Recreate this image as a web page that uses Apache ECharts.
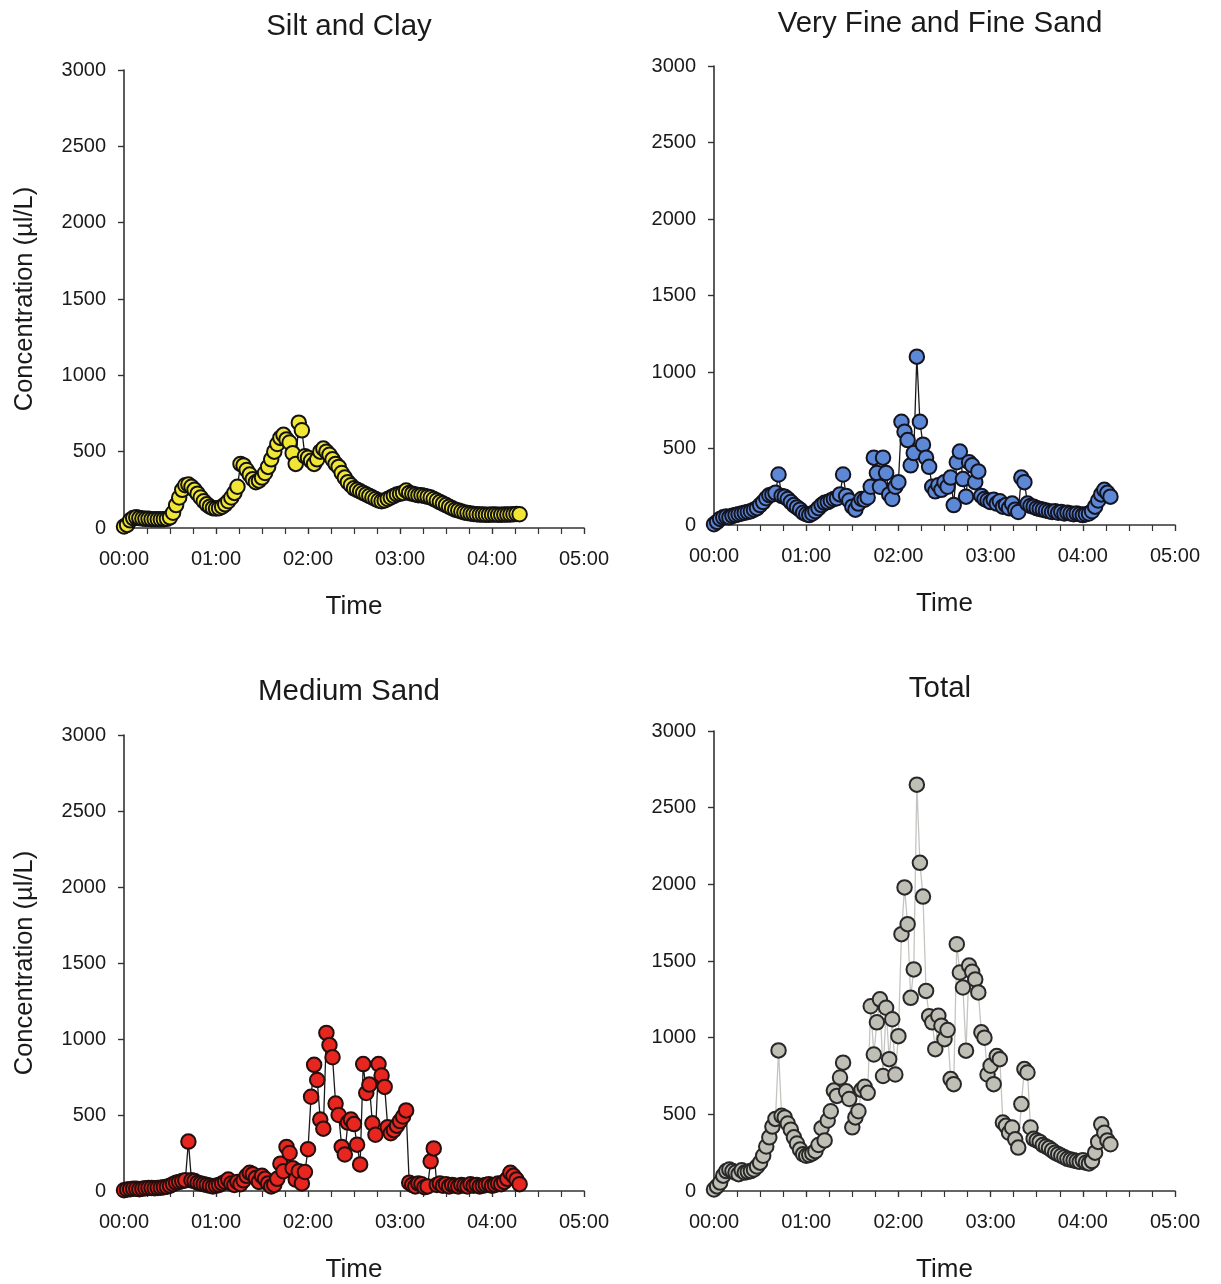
<!DOCTYPE html>
<html>
<head>
<meta charset="utf-8">
<script src="https://cdn.jsdelivr.net/npm/echarts@6/dist/echarts.min.js"></script>
<style>
html,body{margin:0;padding:0;background:#fff;}
#c{width:1221px;height:1284px;}
</style>
</head>
<body>
<div id="c"></div>
<script>
// time in minutes since start (2-min samples)
const times = [0,2,4,6,8,10,12,14,16,18,20,22,24,26,28,30,32,34,36,38,40,42,44,46,48,50,52,54,56,58,
60,62,64,66,68,70,72,74,76,78,80,82,84,86,88,90,92,94,96,98,100,102,104,106,108,110,112,114,116,118,
120,122,124,126,128,130,132,134,136,138,140,142,144,146,148,150,152,154,156,158,160,162,164,166,168,170,172,174,176,178,
180,182,184,186,188,190,192,194,196,198,200,202,204,206,208,210,212,214,216,218,220,222,224,226,228,230,232,234,236,238,
240,242,244,246,248,250,252,254,256,258];

const siltClay = [10,20,50,65,70,65,62,60,60,58,
58,57,57,58,60,70,100,150,200,250,
280,285,270,250,225,200,175,155,140,130,
128,130,140,155,175,200,230,270,420,410,
380,350,320,300,310,330,360,400,450,500,
550,590,610,580,560,490,420,690,640,470,
460,440,420,450,500,520,500,480,450,420,
400,360,330,300,280,260,250,240,230,220,
210,200,190,180,175,180,190,200,210,220,
225,230,245,230,225,220,215,215,210,205,
200,190,180,170,160,150,140,130,120,115,
108,102,98,95,92,90,88,88,87,87,
88,88,87,87,88,88,89,90,92,90];

const fineSand = [5,20,40,50,55,50,60,65,70,75,
80,85,90,100,110,130,150,175,195,200,
210,330,190,185,170,150,130,115,100,80,
70,65,75,90,110,130,145,150,160,170,
175,200,330,190,160,120,100,140,170,165,
180,250,440,340,250,440,340,200,170,250,
280,675,610,555,390,470,1100,675,525,440,
380,250,220,260,230,280,250,310,130,410,
480,300,185,410,390,280,350,190,170,160,
150,165,140,155,120,130,110,140,100,85,
310,280,140,125,120,110,105,100,95,90,
85,90,80,85,75,80,75,70,75,70,
65,70,75,90,120,160,200,230,210,185];

const mediumSand = [5,10,12,15,15,12,15,18,20,20,
18,20,22,25,28,35,45,55,60,65,
70,325,70,65,55,50,45,40,35,30,
35,40,50,60,75,50,40,60,45,70,
100,120,110,85,60,100,80,50,30,40,
80,180,130,290,250,150,75,130,50,125,
275,620,830,730,470,410,1040,960,880,575,
500,290,240,450,470,440,305,175,835,645,
700,445,370,835,760,685,420,380,400,430,
460,490,530,55,40,30,50,45,25,30,
195,280,40,50,35,45,30,40,35,30,
40,35,30,45,35,40,30,35,40,45,
35,40,50,45,60,80,120,100,75,45];

const total = [10,30,55,100,130,140,130,120,110,135,
120,125,130,140,160,185,230,290,350,420,
470,917,490,480,440,400,350,310,270,240,
230,235,245,260,300,410,330,460,520,655,
620,740,837,650,600,415,480,520,660,680,
640,1205,890,1100,1250,750,1195,860,1120,760,
1010,1675,1980,1740,1260,1445,2650,2140,1920,1305,
1140,1100,925,1143,1078,990,1050,730,697,1610,
1425,1327,915,1470,1430,1380,1295,1035,1000,760,
817,697,880,860,447,425,380,414,337,283,
567,795,773,414,340,330,320,300,290,280,
265,250,240,230,220,210,205,200,195,190,
200,185,180,195,250,320,435,380,330,305];

const panelTitles = ['Silt and Clay', 'Very Fine and Fine Sand', 'Medium Sand', 'Total'];
const yTicks = [0, 500, 1000, 1500, 2000, 2500, 3000];
const xTickLabels = ['00:00', '01:00', '02:00', '03:00', '04:00', '05:00'];
const yName = 'Concentration (\u00b5l/L)';
const xName = 'Time';

const FONT = '"Liberation Sans", Arial, Helvetica, sans-serif';
const grids = [
  {left: 124, top: 70, width: 460, height: 458},
  {left: 714, top: 66, width: 461, height: 459},
  {left: 124, top: 735, width: 460, height: 460},
  {left: 714, top: 731, width: 461, height: 460}
];
const seriesData = [siltClay, fineSand, mediumSand, total];
const fills = ['#f2e635', '#5d88d6', '#e6261f', '#bfbfb6'];
const borders = ['#121212', '#141420', '#240e0e', '#282828'];
const lines = ['#111111', '#1a1a1a', '#1a1a1a', '#c4c4c0'];
const titlePos = [[349, 27], [940, 24], [349, 692], [940, 689]];

const axisColor = '#333333';
const xAxes = grids.map((g, i) => ({
  type: 'value', gridIndex: i, min: 0, max: 300, interval: 60,
  axisLine: {show: true, lineStyle: {color: axisColor, width: 1.6}},
  axisTick: {show: true, length: 6, lineStyle: {color: axisColor, width: 1.4}},
  minorTick: {show: true, splitNumber: 4, length: 6, lineStyle: {color: axisColor, width: 1.2}},
  splitLine: {show: false},
  axisLabel: {
    margin: 21, fontSize: 20, fontFamily: FONT, color: '#1a1a1a',
    formatter: v => xTickLabels[Math.round(v / 60)]
  },
  name: xName, nameLocation: 'middle', nameGap: 66,
  nameTextStyle: {fontSize: 26, fontFamily: FONT, color: '#1a1a1a'}
}));
const yAxes = grids.map((g, i) => ({
  type: 'value', gridIndex: i, min: yTicks[0], max: yTicks[yTicks.length - 1], interval: 500,
  axisLine: {show: true, lineStyle: {color: axisColor, width: 1.6}},
  axisTick: {show: true, length: 6, lineStyle: {color: axisColor, width: 1.4}},
  splitLine: {show: false},
  axisLabel: {margin: 18, fontSize: 20, fontFamily: FONT, color: '#1a1a1a',
    formatter: v => String(v)},
  name: (i % 2 === 0) ? yName : '', nameLocation: 'middle', nameGap: 86,
  nameTextStyle: {fontSize: 25.5, fontFamily: FONT, color: '#1a1a1a'}
}));
const series = seriesData.map((arr, i) => ({
  type: 'line', xAxisIndex: i, yAxisIndex: i,
  data: times.map((t, k) => [t, arr[k]]),
  symbol: 'circle', symbolSize: 14.5, showSymbol: true, showAllSymbol: true,
  clip: false,
  lineStyle: {color: lines[i], width: i === 3 ? 1.3 : 1.3},
  itemStyle: {color: fills[i], borderColor: borders[i], borderWidth: 2},
  emphasis: {disabled: true},
  animation: false
}));
const graphic = panelTitles.map((t, i) => ({
  type: 'text', x: titlePos[i][0], y: titlePos[i][1],
  style: {text: t, font: '29.5px ' + FONT, fill: '#1a1a1a',
    textAlign: 'center', textVerticalAlign: 'middle', align: 'center', verticalAlign: 'middle'}
}));

const chart = echarts.init(document.getElementById('c'), null, {renderer: 'canvas'});
chart.setOption({
  backgroundColor: '#ffffff',
  animation: false,
  grid: grids,
  xAxis: xAxes,
  yAxis: yAxes,
  series: series,
  graphic: graphic
});
</script>
</body>
</html>
